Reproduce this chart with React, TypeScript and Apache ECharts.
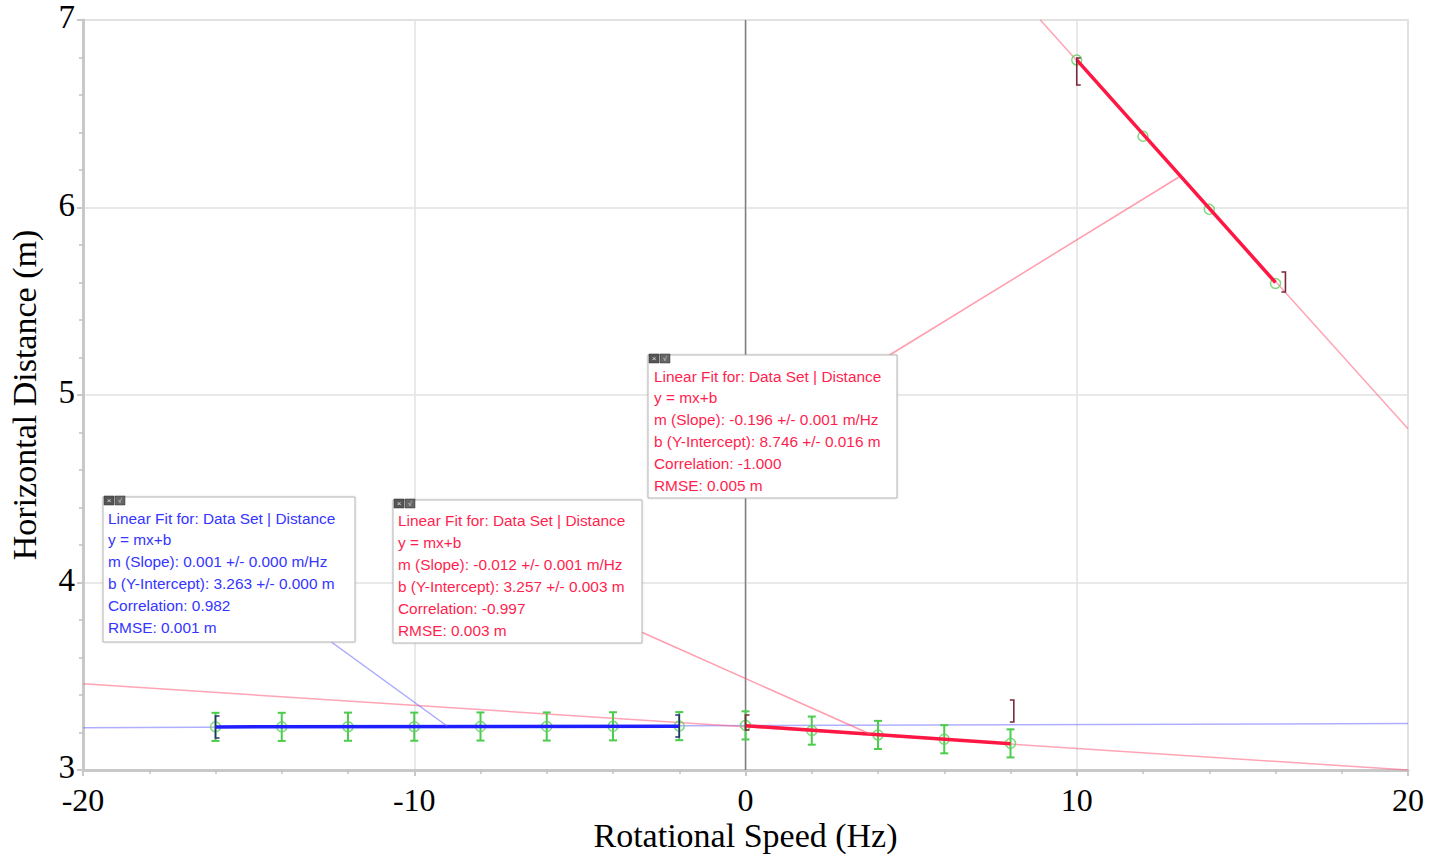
import React, { useEffect, useRef } from "react";
import * as echarts from "echarts";

// ---------- data ----------
const blueX = [-16, -14, -12, -10, -8, -6, -4, -2];
const blueY = [3.23, 3.23, 3.231, 3.231, 3.232, 3.232, 3.233, 3.234];
const redLowX = [0, 2, 4, 6, 8];
const redLowY = [3.238, 3.21, 3.187, 3.164, 3.142];
const redHighX = [10, 12, 14, 16];
const redHighY = [6.787, 6.38, 5.99, 5.595];
const lowErr = 0.075;

// fit lines (endpoints)
const blueFitFull = [[-20, 3.226], [20, 3.248]];
const redFitFull1 = [[-20, 3.46], [20, 3.0]];
const redFitFull2 = [[8.9, 7.0], [20, 4.82]];
const blueFitSeg = [[-16, 3.23], [-2, 3.234]];
const redFitSeg1 = [[0, 3.236], [8, 3.14]];
const redFitSeg2 = [[10, 6.787], [16, 5.6]];
const zeroLine = [[0, 3], [0, 7]];

// brackets: [x, yTop, yBottom, side(0=left,1=right)]
const blueBrackets = [[-16, 3.288, 3.171, 0], [-2, 3.293, 3.176, 1]];
const redBrackets = [
  [0, 3.293, 3.213, 0],
  [8.1, 3.373, 3.256, 1],
  [10, 6.797, 6.653, 0],
  [16.3, 5.656, 5.549, 1],
];

const redBox = [
  "Linear Fit for: Data Set | Distance",
  "y = mx+b",
  "m (Slope): -0.196 +/- 0.001 m/Hz",
  "b (Y-Intercept): 8.746 +/- 0.016 m",
  "Correlation: -1.000",
  "RMSE: 0.005 m",
];
const blueBox = [
  "Linear Fit for: Data Set | Distance",
  "y = mx+b",
  "m (Slope): 0.001 +/- 0.000 m/Hz",
  "b (Y-Intercept): 3.263 +/- 0.000 m",
  "Correlation: 0.982",
  "RMSE: 0.001 m",
];
const redBox2 = [
  "Linear Fit for: Data Set | Distance",
  "y = mx+b",
  "m (Slope): -0.012 +/- 0.001 m/Hz",
  "b (Y-Intercept): 3.257 +/- 0.003 m",
  "Correlation: -0.997",
  "RMSE: 0.003 m",
];

const RED = "#ff1f4f";
const BLUE = "#3535ff";
const ZB = 100;

function makeBox(x: number, y: number, w: number, h: number, lines: string[], color: string, tx: number, ty: number, lh: number) {
  const children: any[] = [
    { type: "rect", z: ZB, shape: { x: 0, y: 0, width: w, height: h }, style: { fill: "#fff", stroke: "#b4b4b4", lineWidth: 1, shadowBlur: 2, shadowColor: "rgba(0,0,0,0.15)" } },
    { type: "rect", z: ZB + 1, shape: { x: 1, y: -1, width: 10, height: 9 }, style: { fill: "#555", stroke: "#333", lineWidth: 0.5 } },
    { type: "rect", z: ZB + 1, shape: { x: 12, y: -1, width: 10, height: 9 }, style: { fill: "#666", stroke: "#333", lineWidth: 0.5 } },
    { type: "text", z: ZB + 2, x: 6, y: 3.5, style: { text: "×", fill: "#ddd", font: "8px sans-serif", align: "center", verticalAlign: "middle" } },
    { type: "text", z: ZB + 2, x: 17, y: 3.5, style: { text: "√", fill: "#ddd", font: "7px sans-serif", align: "center", verticalAlign: "middle" } },
  ];
  lines.forEach((t, i) => {
    children.push({
      type: "text",
      z: ZB + 2,
      x: tx,
      y: ty + i * lh,
      style: { text: t, fill: color, font: "15.4px 'Liberation Sans', Arial, sans-serif", verticalAlign: "middle" },
    });
  });
  return { type: "group", x, y, z: ZB, children };
}

function lineSeries(data: number[][], color: string, width: number, z = 2) {
  return {
    type: "line",
    data,
    showSymbol: false,
    symbol: "none",
    z,
    lineStyle: { color, width },
    silent: true,
  };
}

export default function App() {
  const ref = useRef<HTMLDivElement>(null);
  useEffect(() => {
    const chart = echarts.init(ref.current!, null, { renderer: "svg" });
    const errData = [
      ...blueX.map((x, i) => [x, blueY[i], lowErr]),
      ...redLowX.map((x, i) => [x, redLowY[i], lowErr]),
    ];
    const pts = [
      ...blueX.map((x, i) => [x, blueY[i]]),
      ...redLowX.map((x, i) => [x, redLowY[i]]),
      ...redHighX.map((x, i) => [x, redHighY[i]]),
    ];
    const bracketRender = (color: string) => (params: any, api: any) => {
      const x = api.value(0);
      const top = api.coord([x, api.value(1)]);
      const bot = api.coord([x, api.value(2)]);
      const d = api.value(3) === 0 ? 4 : -4;
      return {
        type: "polyline",
        shape: { points: [[top[0] + d, top[1]], [top[0], top[1]], [bot[0], bot[1]], [bot[0] + d, bot[1]]] },
        style: { stroke: color, lineWidth: 1.6, fill: "none" },
      };
    };
    const serif = "'Liberation Serif', serif";
    const option: any = {
      animation: false,
      backgroundColor: "#fff",
      grid: { left: 83, right: 32, top: 20, bottom: 84, outerBoundsMode: "none", containLabel: false, show: true, borderColor: "#d4d4d4", borderWidth: 1.5 },
      xAxis: {
        type: "value",
        min: -20,
        max: 20,
        interval: 10,
        name: "Rotational Speed (Hz)",
        nameLocation: "middle",
        nameMoveOverlap: false,
        nameGap: 48,
        nameTextStyle: { fontFamily: serif, fontSize: 34, color: "#000" },
        axisLine: { onZero: false, lineStyle: { color: "#c8c8c8", width: 3 } },
        axisTick: { show: true, length: 6, lineStyle: { color: "#c8c8c8", width: 2 } },
        minorTick: { show: true, splitNumber: 5, length: 4, lineStyle: { color: "#c0c0c0", width: 1.5 } },
        axisLabel: { fontFamily: serif, fontSize: 32, color: "#000", margin: 14 },
        splitLine: { show: true, lineStyle: { color: "#e2e2e2", width: 1.5 } },
      },
      yAxis: {
        type: "value",
        min: 3,
        max: 7,
        interval: 1,
        name: "Horizontal Distance (m)",
        nameLocation: "middle",
        nameMoveOverlap: false,
        nameGap: 42,
        nameTextStyle: { fontFamily: serif, fontSize: 34, color: "#000" },
        axisLine: { onZero: false, lineStyle: { color: "#c8c8c8", width: 3 } },
        axisTick: { show: true, length: 6, lineStyle: { color: "#c8c8c8", width: 2 } },
        minorTick: { show: true, splitNumber: 5, length: 4, lineStyle: { color: "#c0c0c0", width: 1.5 } },
        axisLabel: { fontFamily: serif, fontSize: 33, color: "#000", margin: 8, verticalAlign: "bottom", lineHeight: 34, padding: [0, 0, -14, 0] },
        splitLine: { show: true, lineStyle: { color: "#e2e2e2", width: 1.5 } },
      },
      series: [
        lineSeries(zeroLine, "#808080", 1.5, 1),
        lineSeries(blueFitFull, "rgba(110,110,255,0.55)", 1.5),
        lineSeries(redFitFull1, "rgba(255,90,120,0.55)", 1.5),
        lineSeries(redFitFull2, "rgba(255,90,120,0.55)", 1.5),
        {
          type: "custom",
          z: 4,
          silent: true,
          data: errData,
          renderItem: (params: any, api: any) => {
            const x = api.value(0);
            const y = api.value(1);
            const e = api.value(2);
            const hi = api.coord([x, y + e]);
            const lo = api.coord([x, y - e]);
            const c = "#4ccc4c";
            return {
              type: "group",
              children: [
                { type: "line", shape: { x1: hi[0], y1: hi[1], x2: lo[0], y2: lo[1] }, style: { stroke: c, lineWidth: 2 } },
                { type: "line", shape: { x1: hi[0] - 4, y1: hi[1], x2: hi[0] + 4, y2: hi[1] }, style: { stroke: c, lineWidth: 2 } },
                { type: "line", shape: { x1: lo[0] - 4, y1: lo[1], x2: lo[0] + 4, y2: lo[1] }, style: { stroke: c, lineWidth: 2 } },
              ],
            };
          },
        },
        {
          type: "scatter",
          z: 5,
          data: pts,
          symbol: "circle",
          symbolSize: 10,
          itemStyle: { color: "rgba(0,0,0,0)", borderColor: "#5fd05f", borderWidth: 1.5 },
          silent: true,
        },
        lineSeries(blueFitSeg, "#1e1eff", 3.5, 6),
        lineSeries(redFitSeg1, "#ff1744", 3.5, 6),
        lineSeries(redFitSeg2, "#ff1744", 3.5, 6),
        { type: "custom", z: 7, silent: true, data: blueBrackets, renderItem: bracketRender("#2c2c7a") },
        { type: "custom", z: 7, silent: true, data: redBrackets, renderItem: bracketRender("#7a2a3a") },
      ],
      graphic: [
        { type: "line", z: 50, shape: { x1: 330, y1: 641, x2: 447, y2: 726 }, style: { stroke: "rgba(110,110,255,0.6)", lineWidth: 1.5 } },
        { type: "line", z: 50, shape: { x1: 630, y1: 627, x2: 870, y2: 734 }, style: { stroke: "rgba(255,90,120,0.6)", lineWidth: 1.5 } },
        { type: "line", z: 50, shape: { x1: 888, y1: 356, x2: 1179, y2: 177 }, style: { stroke: "rgba(255,90,120,0.6)", lineWidth: 1.5 } },
        makeBox(648, 355, 249, 143, redBox, RED, 6, 21, 21.8),
        makeBox(103, 497, 252, 145, blueBox, BLUE, 5, 21, 21.8),
        makeBox(393, 500, 249, 143, redBox2, RED, 5, 20, 22),
      ],
    };
    chart.setOption(option);
    return () => chart.dispose();
  }, []);
  return <div ref={ref} style={{ position: "fixed", left: 0, top: 0, width: 1440, height: 854 }} />;
}
